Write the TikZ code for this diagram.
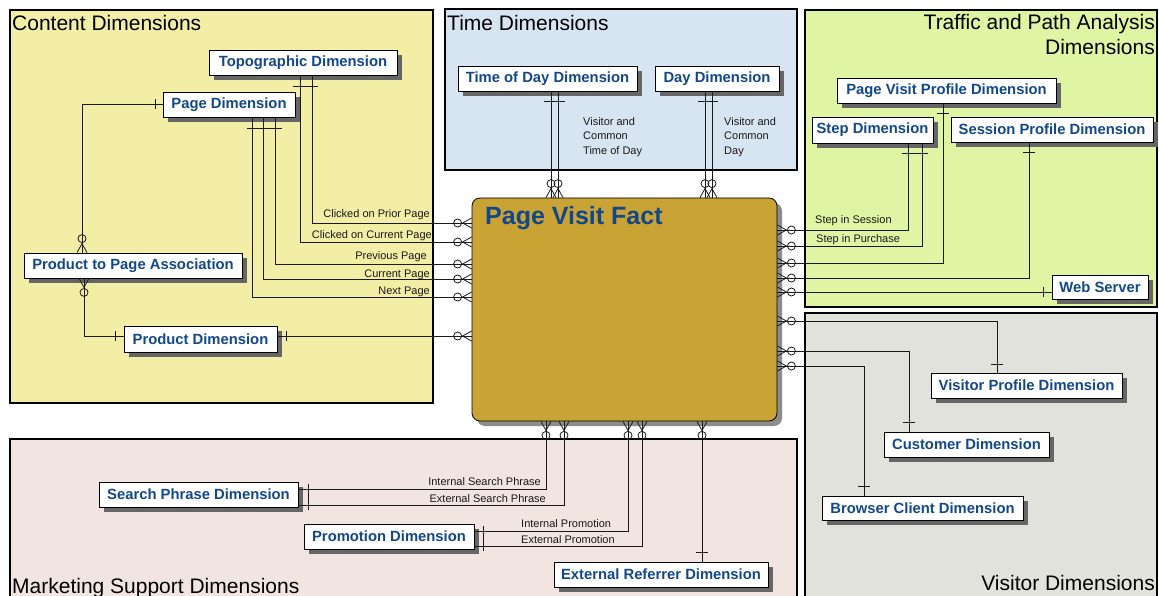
\documentclass[tikz,border=0pt]{standalone}
\usepackage{fontspec}
\setmainfont{Liberation Sans}
\usetikzlibrary{shadows}
\definecolor{dimblue}{HTML}{12488A}
\definecolor{factgold}{HTML}{C9A334}
\definecolor{contentbg}{HTML}{F3EEA6}
\definecolor{timebg}{HTML}{D7E5F3}
\definecolor{trafficbg}{HTML}{DFF5A4}
\definecolor{visitorbg}{HTML}{E2E2DD}
\definecolor{mktbg}{HTML}{F2E5E1}
\tikzset{
  region/.style={draw=black, line width=1.3pt},
  rtitle/.style={font=\fontsize{21}{25}\selectfont, inner sep=0pt, text=black},
  dimbox/.style={draw=black, line width=0.8pt, fill=white, text=dimblue,
    font=\bfseries\fontsize{14.8}{17}\selectfont, minimum height=25pt, inner sep=0pt,
    drop shadow={shadow xshift=5pt, shadow yshift=-5pt, fill=black!60, opacity=1}},
  lbl/.style={font=\fontsize{11}{14.5}\selectfont, inner sep=0pt, text=black!90},
  conn/.style={draw=black!90, line width=0.8pt},
  zmany/.pic={\draw[conn] (0,5) -- (9,0) -- (0,-5); \draw[conn] (14,0) circle (4pt);}
}
\begin{document}
\begin{tikzpicture}[x=1pt,y=-1pt]
\useasboundingbox (0,0) rectangle (1159,596);
% regions
\draw[region, fill=contentbg] (10,10) rectangle (433,403);
\draw[region, fill=timebg] (445,9) rectangle (797,170);
\draw[region, fill=trafficbg] (805,10) rectangle (1157,307);
\draw[region, fill=visitorbg] (805,313) rectangle (1157,610);
\draw[region, fill=mktbg] (10,439) rectangle (797,610);
\node[rtitle, anchor=base west] (tcontent) at (12,31) {Content Dimensions};
\node[rtitle, anchor=base west] (ttime) at (447,31) {Time Dimensions};
\node[rtitle, anchor=base east] (ttraffica) at (1155,30) {Traffic and Path Analysis};
\node[rtitle, anchor=base east] (ttrafficb) at (1155,55) {Dimensions};
\node[rtitle, anchor=base east] (tvisitor) at (1155,590) {Visitor Dimensions};
\node[rtitle, anchor=base west] (tmkt) at (12,593) {Marketing Support Dimensions};

% fact
\node[draw=black, line width=0.8pt, fill=factgold, rounded corners=8pt, minimum width=305pt, minimum height=223pt,
  drop shadow={shadow xshift=5pt, shadow yshift=-5pt, fill=black!45, opacity=1}] (fact) at (624.5,309.5) {};
\node[font=\bfseries\fontsize{25}{30}\selectfont, text=dimblue, inner sep=0pt, anchor=base west] (facttitle) at (485,225) {Page Visit Fact};

% dimensions
\node[dimbox, minimum width=188pt] (topo) at (303,62.5) {Topographic Dimension};
\node[dimbox, minimum width=132pt] (page) at (229,104.5) {Page Dimension};
\node[dimbox, minimum width=218pt] (ppa) at (133,265.5) {Product to Page Association};
\node[dimbox, minimum width=153pt, minimum height=26pt] (prod) at (200.5,339) {Product Dimension};
\node[dimbox, minimum width=179pt] (tod) at (547.5,78.5) {Time of Day Dimension};
\node[dimbox, minimum width=124pt] (day) at (717,78.5) {Day Dimension};
\node[dimbox, minimum width=219pt] (pvp) at (946.5,90.5) {Page Visit Profile Dimension};
\node[dimbox, minimum width=121pt, minimum height=26pt] (step) at (872.5,130) {Step Dimension};
\node[dimbox, minimum width=202pt] (sess) at (1052,129.5) {Session Profile Dimension};
\node[dimbox, minimum width=96pt, minimum height=24pt] (web) at (1100,287) {Web Server};
\node[dimbox, minimum width=191pt] (vp) at (1026.5,385.5) {Visitor Profile Dimension};
\node[dimbox, minimum width=165pt] (cust) at (966.5,444.5) {Customer Dimension};
\node[dimbox, minimum width=201pt, minimum height=24pt] (brow) at (922.5,508) {Browser Client Dimension};
\node[dimbox, minimum width=199pt] (sp) at (198.5,494.5) {Search Phrase Dimension};
\node[dimbox, minimum width=170pt] (promo) at (389,536.5) {Promotion Dimension};
\node[dimbox, minimum width=214pt] (ext) at (661,574.5) {External Referrer Dimension};

% content connectors
\draw[conn] (page.west) -| (82,0 |- ppa.north);
\draw[conn] (155,99.5) -- (155,109.5);
\pic[rotate=90] at (82,0 |- ppa.north) {zmany};
\draw[conn] (84,0 |- ppa.south) |- (prod.west |- 0,336);
\pic[rotate=-90] at (84,0 |- ppa.south) {zmany};
\draw[conn] (115,331) -- (115,341);
\draw[conn] (prod.east |- 0,336) -- (fact.west |- 0,336);
\draw[conn] (286,331) -- (286,341);
\pic[rotate=180] at (fact.west |- 0,336) {zmany};
\draw[conn] (252,0 |- page.south) |- (fact.west |- 0,297);
\draw[conn] (263,0 |- page.south) |- (fact.west |- 0,279);
\draw[conn] (275,0 |- page.south) |- (fact.west |- 0,264);
\draw[conn] (247,128) -- (282,128);
\draw[conn] (300,0 |- topo.south) |- (fact.west |- 0,242);
\draw[conn] (312,0 |- topo.south) |- (fact.west |- 0,223);
\draw[conn] (293,86) -- (318,86);
\foreach \yy in {223,242,264,279,297} {\pic[rotate=180] at (fact.west |- 0,\yy) {zmany};}
\node[lbl, anchor=base east] (lcp) at (430,218) {Clicked on Prior Page};
\node[lbl, anchor=base east] (lcc) at (432,238) {Clicked on Current Page};
\node[lbl, anchor=base east] (lpp) at (427,259) {Previous Page};
\node[lbl, anchor=base east] (lcur) at (430,277) {Current Page};
\node[lbl, anchor=base east] (lnp) at (430,294) {Next Page};

% time connectors
\draw[conn] (551,0 |- tod.south) -- (551,0 |- fact.north);
\draw[conn] (558,0 |- tod.south) -- (558,0 |- fact.north);
\draw[conn] (544,101) -- (565,101);
\draw[conn] (705,0 |- day.south) -- (705,0 |- fact.north);
\draw[conn] (712,0 |- day.south) -- (712,0 |- fact.north);
\draw[conn] (698,101) -- (718,101);
\foreach \xx in {551,558,705,712} {\pic[rotate=90] at (\xx,0 |- fact.north) {zmany};}
\node[lbl, anchor=north west, align=left] (ltod) at (583,117) {Visitor and\\Common\\Time of Day};
\node[lbl, anchor=north west, align=left] (lday) at (724,117) {Visitor and\\Common\\Day};

% traffic connectors
\draw[conn] (908,0 |- step.south) |- (fact.east |- 0,230);
\draw[conn] (922,0 |- step.south) |- (fact.east |- 0,246);
\draw[conn] (902,153) -- (928,153);
\draw[conn] (943,0 |- pvp.south) |- (fact.east |- 0,263);
\draw[conn] (937,113) -- (949,113);
\draw[conn] (1029,0 |- sess.south) |- (fact.east |- 0,278);
\draw[conn] (1023,152) -- (1035,152);
\draw[conn] (web.west |- 0,292) -- (fact.east |- 0,292);
\draw[conn] (1043,287) -- (1043,297);
\node[lbl, anchor=base west] (lsis) at (815,223) {Step in Session};
\node[lbl, anchor=base west] (lsip) at (816,243) {Step in Purchase};

% visitor connectors
\draw[conn] (fact.east |- 0,321) -| (997,0 |- vp.north);
\draw[conn] (991,364) -- (1003,364);
\draw[conn] (fact.east |- 0,351) -| (909,0 |- cust.north);
\draw[conn] (903,422) -- (915,422);
\draw[conn] (fact.east |- 0,366) -| (864,0 |- brow.north);
\draw[conn] (858,486) -- (870,486);
\foreach \yy in {230,246,263,278,292,321,351,366} {\pic at (fact.east |- 0,\yy) {zmany};}

% marketing connectors
\draw[conn] (546,0 |- fact.south) |- (sp.east |- 0,489);
\draw[conn] (564,0 |- fact.south) |- (sp.east |- 0,505);
\draw[conn] (308,484) -- (308,510);
\draw[conn] (628,0 |- fact.south) |- (promo.east |- 0,531);
\draw[conn] (642,0 |- fact.south) |- (promo.east |- 0,546);
\draw[conn] (483,526) -- (483,551);
\draw[conn] (702,0 |- fact.south) -- (702,0 |- ext.north);
\draw[conn] (696,552) -- (708,552);
\foreach \xx in {546,564,628,642,702} {\pic[rotate=-90] at (\xx,0 |- fact.south) {zmany};}
\node[lbl, anchor=base east] (lisp) at (541,485) {Internal Search Phrase};
\node[lbl, anchor=base east] (lesp) at (546,502) {External Search Phrase};
\node[lbl, anchor=base west] (lip) at (521,527) {Internal Promotion};
\node[lbl, anchor=base west] (lep) at (521,543) {External Promotion};
\end{tikzpicture}
\end{document}
